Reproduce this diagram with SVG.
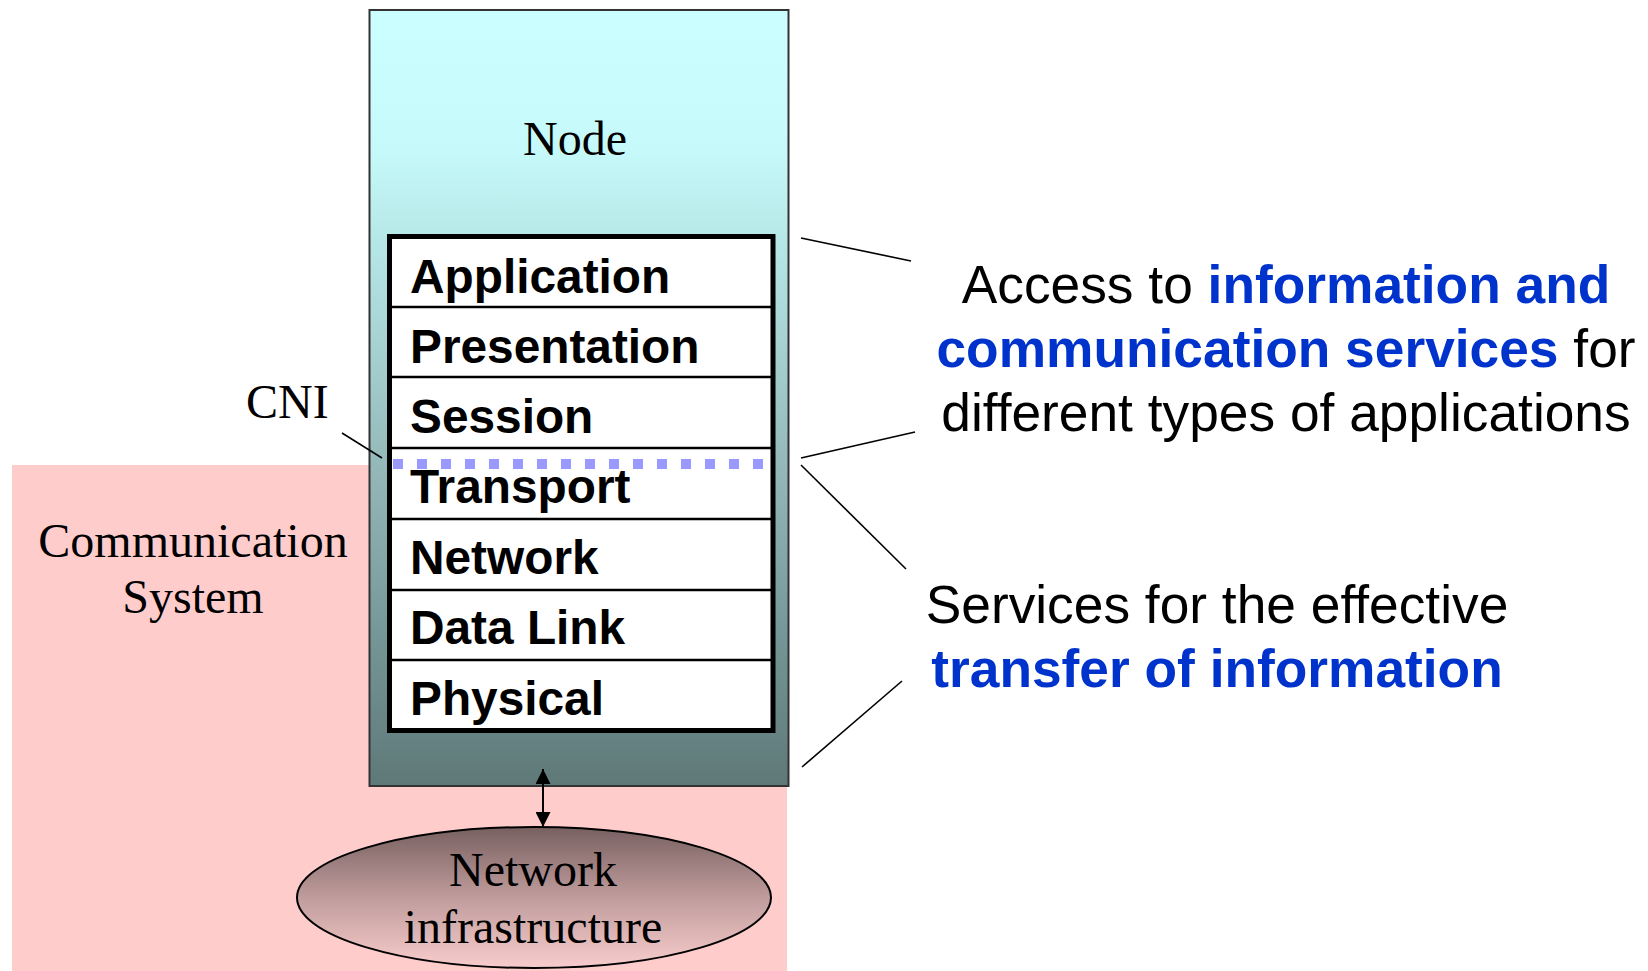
<svg xmlns="http://www.w3.org/2000/svg" width="1648" height="971" viewBox="0 0 1648 971">
<style>
.serif{font-family:"Liberation Serif","Times New Roman",serif;font-size:48px;fill:#000}
.layer{font-family:"Liberation Sans",Arial,sans-serif;font-weight:bold;font-size:47.8px;fill:#000}
.note{font-family:"Liberation Sans",Arial,sans-serif;font-size:53.3px;fill:#000}
.hl{font-weight:bold;fill:#0033cc}
.div{stroke:#000;stroke-width:2.5}
.conn{stroke:#000;stroke-width:1.6;fill:none}
</style>
<defs>
<linearGradient id="nodeGrad" x1="0" y1="0" x2="0" y2="1">
<stop offset="0" stop-color="#ccffff"/>
<stop offset="0.18" stop-color="#c6f9f9"/>
<stop offset="0.28" stop-color="#b8eaea"/>
<stop offset="0.59" stop-color="#94b8b8"/>
<stop offset="0.79" stop-color="#779999"/>
<stop offset="1" stop-color="#5f7878"/>
</linearGradient>
<linearGradient id="ellGrad" x1="0" y1="0" x2="0" y2="1">
<stop offset="0" stop-color="#786060"/>
<stop offset="0.5" stop-color="#c09c9c"/>
<stop offset="1" stop-color="#f8cccc"/>
</linearGradient>
<marker id="ah" viewBox="0 0 10 10" refX="10" refY="5" markerWidth="15" markerHeight="15" markerUnits="userSpaceOnUse" orient="auto-start-reverse">
<path d="M0,0 L10,5 L0,10 Z" fill="#000"/>
</marker>
</defs>

<g id="communication-system">
<rect x="12" y="465" width="775" height="506" fill="#ffcccc"/>
<text class="serif" text-anchor="middle" x="193" y="557">Communication</text>
<text class="serif" text-anchor="middle" x="193" y="613">System</text>
</g>

<g id="node">
<rect x="369.5" y="10" width="419" height="776" fill="url(#nodeGrad)" stroke="#333" stroke-width="2"/>
<text class="serif" text-anchor="middle" x="575" y="155">Node</text>
</g>

<g id="layer-stack">
<rect x="389.5" y="236.5" width="383.5" height="494" fill="#fff" stroke="#000" stroke-width="5"/>
<line class="div" x1="392" y1="307" x2="771" y2="307"/>
<line class="div" x1="392" y1="377" x2="771" y2="377"/>
<line class="div" x1="392" y1="448" x2="771" y2="448"/>
<line class="div" x1="392" y1="519" x2="771" y2="519"/>
<line class="div" x1="392" y1="590" x2="771" y2="590"/>
<line class="div" x1="392" y1="660" x2="771" y2="660"/>
<text class="layer" x="410" y="293">Application</text>
<text class="layer" x="410" y="363">Presentation</text>
<text class="layer" x="410" y="433">Session</text>
<text class="layer" x="410" y="503">Transport</text>
<text class="layer" x="410" y="574">Network</text>
<text class="layer" x="410" y="644">Data Link</text>
<text class="layer" x="410" y="715">Physical</text>
<line x1="393" y1="464" x2="765" y2="464" stroke="#9999ff" stroke-width="10" stroke-dasharray="10 14"/>
</g>

<g id="network-infrastructure">
<ellipse cx="534" cy="897.5" rx="237" ry="70.5" fill="url(#ellGrad)" stroke="#000" stroke-width="2"/>
<text class="serif" text-anchor="middle" x="533" y="886">Network</text>
<text class="serif" text-anchor="middle" x="533" y="943">infrastructure</text>
</g>

<g id="cni-label">
<text class="serif" x="246" y="418">CNI</text>
</g>

<g id="note-access">
<text class="note" text-anchor="middle" x="1286" y="303">Access to <tspan class="hl">information and</tspan></text>
<text class="note" text-anchor="middle" x="1286" y="367"><tspan class="hl">communication services</tspan> for</text>
<text class="note" text-anchor="middle" x="1286" y="431">different types of applications</text>
</g>

<g id="note-transfer">
<text class="note" text-anchor="middle" x="1217" y="623">Services for the effective</text>
<text class="note hl" text-anchor="middle" x="1217" y="687">transfer of information</text>
</g>

<g id="connectors">
<line class="conn" x1="342" y1="433" x2="382" y2="458"/>
<line class="conn" x1="801" y1="238" x2="911" y2="261"/>
<line class="conn" x1="801" y1="458" x2="915" y2="432"/>
<line class="conn" x1="801" y1="465" x2="906" y2="569"/>
<line class="conn" x1="802" y1="767" x2="902" y2="681"/>
<line x1="543" y1="769" x2="543" y2="827" stroke="#000" stroke-width="2" marker-start="url(#ah)" marker-end="url(#ah)"/>
</g>
</svg>
